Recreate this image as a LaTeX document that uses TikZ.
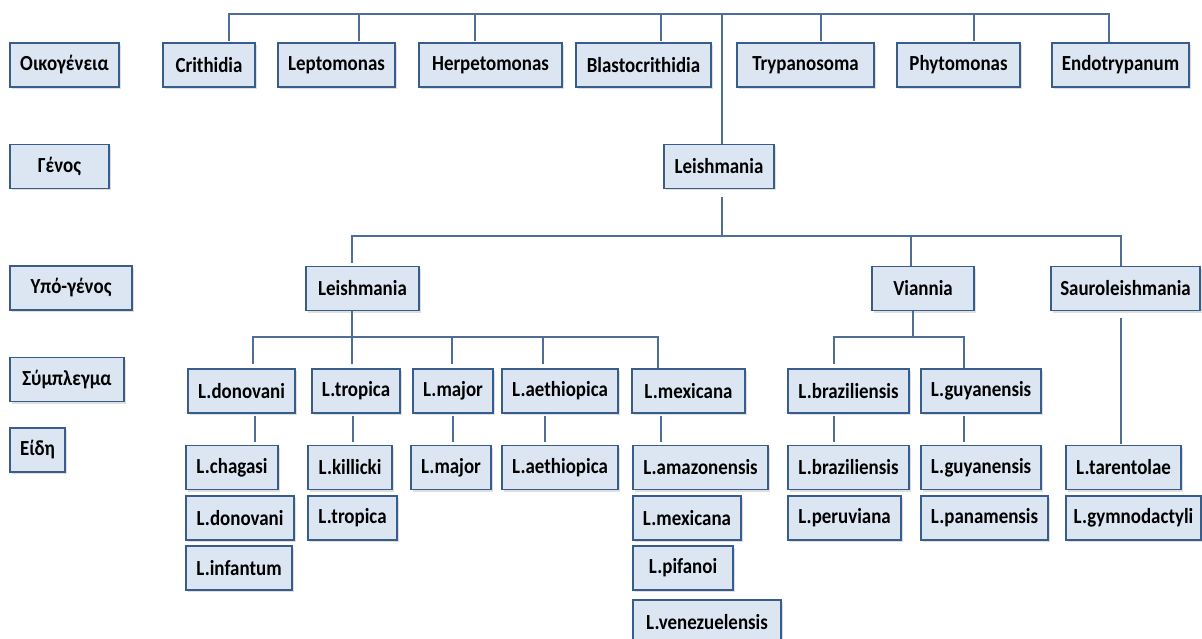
\documentclass[tikz,border=0pt]{standalone}
\usepackage{fontspec}
\usepackage{tikz}
\usetikzlibrary{shapes,arrows,positioning,calc,shadows}
\newfontfamily\boxfont{Carlito}[FakeStretch=0.88]
\definecolor{taxfill}{RGB}{220,230,242}
\definecolor{taxedge}{RGB}{56,93,138}
\definecolor{taxline}{RGB}{79,110,150}

\tikzset{
  taxbox/.style={draw=taxedge, fill=taxfill, line width=1.2pt, minimum height=44pt,
    inner xsep=5pt, font=\boxfont\bfseries\fontsize{21.5}{25}\selectfont,
    drop shadow={shadow xshift=1.5pt, shadow yshift=-2pt, opacity=0.25}},
  link/.style={draw=taxline, line width=1.3pt}
}

\begin{document}
\begin{tikzpicture}[x=1pt,y=-1pt]
\useasboundingbox (0,0) rectangle (1202,639);

% row labels
\node[taxbox, minimum width=109] (lblfam) at (64.5,65) {Οικογένεια};
\node[taxbox, minimum width=99] (lblgen) at (59.5,166.5) {Γένος};
\node[taxbox, minimum width=122] (lblsub) at (71,288) {Υπό-γένος};
\node[taxbox, minimum width=114] (lblcplx) at (67,379.5) {Σύμπλεγμα};
\node[taxbox, minimum width=55] (lblsp) at (37.5,450) {Είδη};

% family
\node[taxbox, minimum width=92] (crith) at (209,65) {Crithidia};
\node[taxbox, minimum width=117] (lepto) at (336.5,65) {Leptomonas};
\node[taxbox, minimum width=143] (herpe) at (490.5,65) {Herpetomonas};
\node[taxbox, minimum width=135] (blasto) at (643.5,65) {Blastocrithidia};
\node[taxbox, minimum width=137] (trypa) at (805.5,65) {Trypanosoma};
\node[taxbox, minimum width=123] (phyto) at (958.5,65) {Phytomonas};
\node[taxbox, minimum width=137] (endo) at (1120.5,65) {Endotrypanum};

% genus
\node[taxbox, minimum width=110] (leish) at (719,166.5) {Leishmania};

% subgenus
\node[taxbox, minimum width=113] (sleish) at (362.5,288.5) {Leishmania};
\node[taxbox, minimum width=102] (vian) at (923,288.5) {Viannia};
\node[taxbox, minimum width=149] (saur) at (1125.5,288.5) {Sauroleishmania};

% complexes
\node[taxbox, minimum width=107] (cdon) at (241.5,391) {L.donovani};
\node[taxbox, minimum width=88] (ctrop) at (356,391) {L.tropica};
\node[taxbox, minimum width=80] (cmaj) at (453,391) {L.major};
\node[taxbox, minimum width=116] (caeth) at (560,391) {L.aethiopica};
\node[taxbox, minimum width=113] (cmex) at (688.5,391) {L.mexicana};
\node[taxbox, minimum width=121] (cbraz) at (848.5,391) {L.braziliensis};
\node[taxbox, minimum width=120] (cguy) at (981,391) {L.guyanensis};

% species
\node[taxbox, minimum width=92] (chag) at (232,467.5) {L.chagasi};
\node[taxbox, minimum width=108] (sdon) at (240,518) {L.donovani};
\node[taxbox, minimum width=106] (infant) at (239,568) {L.infantum};
\node[taxbox, minimum width=84] (kill) at (350,467.5) {L.killicki};
\node[taxbox, minimum width=89] (strop) at (352.5,518) {L.tropica};
\node[taxbox, minimum width=80] (smaj) at (451,467.5) {L.major};
\node[taxbox, minimum width=116] (saeth) at (560,467.5) {L.aethiopica};
\node[taxbox, minimum width=135] (amaz) at (700.5,467.5) {L.amazonensis};
\node[taxbox, minimum width=108] (smex) at (687,518) {L.mexicana};
\node[taxbox, minimum width=100] (pifa) at (683,568) {L.pifanoi};
\node[taxbox, minimum width=148] (venez) at (707,622) {L.venezuelensis};
\node[taxbox, minimum width=121] (sbraz) at (848.5,467.5) {L.braziliensis};
\node[taxbox, minimum width=113] (peru) at (844.5,518) {L.peruviana};
\node[taxbox, minimum width=120] (sguy) at (981,467.5) {L.guyanensis};
\node[taxbox, minimum width=127] (pana) at (984.5,518) {L.panamensis};
\node[taxbox, minimum width=115] (taren) at (1123.5,467.5) {L.tarentolae};
\node[taxbox, minimum width=135] (gymno) at (1133.5,518) {L.gymnodactyli};

% connectors
\coordinate (fambar) at (722,14);
\coordinate (subbar) at (722,236);
\coordinate (lbar) at (352,337);
\coordinate (vbar) at (913,337);

\draw[link, shorten <=1pt] ([xshift=20pt]crith.north) |- (fambar) -| ([xshift=-11.5pt]endo.north);
\foreach \n/\dx in {lepto/22.5, herpe/-15.5, blasto/17.5, trypa/15.5, phyto/15.5}
  \draw[link, shorten <=1pt] ([xshift=\dx pt]\n.north) coordinate (tmp) -- (tmp |- fambar);
\draw[link] (fambar) -- (fambar |- leish.north);

\draw[link] ([xshift=3pt,yshift=-8pt]leish.south) -- (subbar);
\draw[link, shorten <=3pt] ([xshift=-10.5pt]sleish.north) |- (subbar) -| ([xshift=-4.5pt]saur.north);
\draw[link] ([xshift=-12pt]vian.north) coordinate (tmp) -- (tmp |- subbar);

\draw[link] ([xshift=-10.5pt]sleish.south) -- (lbar);
\draw[link, shorten <=4pt] ([xshift=11.5pt]cdon.north) |- (lbar) -| ([xshift=-30.5pt]cmex.north);
\foreach \n/\dx in {ctrop/-4, cmaj/-1, caeth/-17}
  \draw[link, shorten <=4pt] ([xshift=\dx pt]\n.north) coordinate (tmp) -- (tmp |- lbar);

\draw[link] ([xshift=-10pt]vian.south) -- (vbar);
\draw[link, shorten <=4pt] ([xshift=-14.5pt]cbraz.north) |- (vbar) -| ([xshift=-17pt]cguy.north);

\draw[link, shorten >=1pt] ([xshift=-4.5pt,yshift=-7pt]saur.south) coordinate (tmp) -- (tmp |- taren.north);

\foreach \a/\b/\dx in {cdon/chag/13.5, ctrop/kill/-3, cmaj/smaj/0, caeth/saeth/-15,
    cmex/amaz/-27.5, cbraz/sbraz/-14.5, cguy/sguy/-17}
  \draw[link, shorten <=2pt, shorten >=3pt] ([xshift=\dx pt]\a.south) coordinate (tmp) -- (tmp |- \b.north);
\end{tikzpicture}
\end{document}
